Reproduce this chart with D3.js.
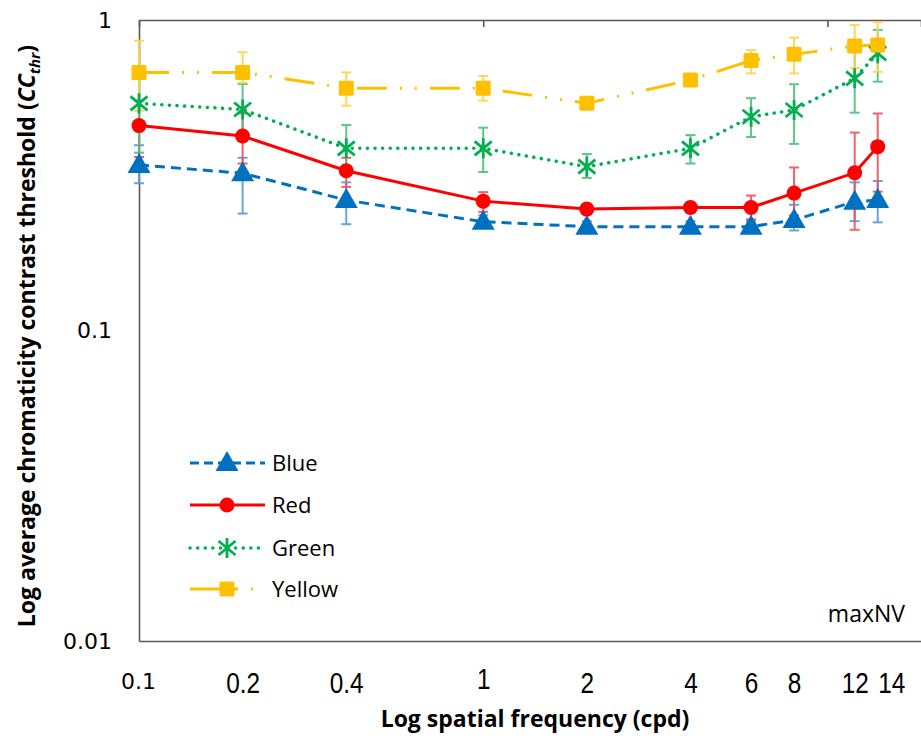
<!DOCTYPE html>
<html>
<head>
<meta charset="utf-8">
<script src="https://cdn.jsdelivr.net/npm/d3@7"></script>
<style>
  body { margin: 0; background: #fff; }
  svg { display: block; }
</style>
</head>
<body>
<svg id="chart" width="921" height="740"></svg>
<script>
// spatial frequencies (cpd)
const freqs = [0.1, 0.2, 0.4, 1, 2, 4, 6, 8, 12, 14]
const xTickLabels = ["0.1", "0.2", "0.4", "1", "2", "4", "6", "8", "12", "14"]
const yTickValues = [0.01, 0.1, 1]

const blue = [0.341, 0.321, 0.263, 0.224, 0.216, 0.216, 0.216, 0.227, 0.260, 0.263]
const blueHi = [0.395, 0.36, 0.30, 0.235, 0.225, 0.225, 0.225, 0.254, 0.30, 0.303]
const blueLo = [0.298, 0.238, 0.22, 0.214, 0.208, 0.208, 0.208, 0.21, 0.225, 0.223]

const red = [0.457, 0.423, 0.327, 0.261, 0.246, 0.249, 0.249, 0.277, 0.322, 0.391]
const redHi = [0.55, 0.5, 0.36, 0.279, 0.255, 0.258, 0.272, 0.335, 0.434, 0.50]
const redLo = [0.362, 0.345, 0.29, 0.241, 0.238, 0.24, 0.228, 0.235, 0.211, 0.28]

const green = [0.539, 0.515, 0.386, 0.386, 0.337, 0.386, 0.488, 0.513, 0.649, 0.781]
const greenHi = [0.65, 0.622, 0.459, 0.45, 0.37, 0.426, 0.56, 0.621, 0.82, 0.929]
const greenLo = [0.374, 0.43, 0.33, 0.324, 0.31, 0.345, 0.42, 0.399, 0.503, 0.633]

const yellow = [0.678, 0.678, 0.603, 0.603, 0.539, 0.641, 0.740, 0.775, 0.825, 0.831]
const yellowHi = [0.858, 0.787, 0.678, 0.66, 0.56, 0.66, 0.80, 0.877, 0.964, 0.983]
const yellowLo = [0.51, 0.628, 0.53, 0.55, 0.52, 0.62, 0.673, 0.673, 0.70, 0.681]

const series = [
  { name: "Blue", vals: blue, hi: blueHi, lo: blueLo, color: "#0070C0", err: "#5A9BD5", dash: "10 6", cap: "butt", marker: "triangle" },
  { name: "Red", vals: red, hi: redHi, lo: redLo, color: "#FF0000", err: "#F0505A", dash: null, cap: "butt", marker: "circle" },
  { name: "Green", vals: green, hi: greenHi, lo: greenLo, color: "#00B050", err: "#4CC27A", dash: "0.1 7.5", cap: "round", marker: "star" },
  { name: "Yellow", vals: yellow, hi: yellowHi, lo: yellowLo, color: "#FFC000", err: "#FFD24D", dash: "30 13 2 13 2 13", cap: "butt", marker: "square" }
]

const svg = d3.select("#chart")
const font = "'Open Sans', 'Noto Sans', sans-serif"

const x = d3.scaleLog().domain([0.1, 18.7]).range([139, 921])
const y = d3.scaleLog().domain([0.01, 1]).range([641, 20])

// axes
const bottomAxis = svg.append("g").attr("transform", "translate(0,641)")
  .call(d3.axisBottom(x).tickValues(freqs).tickSize(0)
    .tickFormat((d, i) => xTickLabels[i]))
bottomAxis.select(".domain").attr("stroke", "#595959").attr("stroke-width", 1.6)
bottomAxis.selectAll("text")
  .attr("font-family", "'Liberation Sans', sans-serif")
  .attr("font-size", 29).attr("fill", "#000")
  .attr("y", 52).attr("dy", 0)
  .attr("transform", "scale(0.84,1)")
  .attr("x", (d, i) => i === 9 ? 16 : 0)
bottomAxis.selectAll("text").filter((d, i) => i === 0 || i === 3)
  .attr("y", 48)
bottomAxis.selectAll("text").filter((d, i) => i === 0)
  .attr("font-family", "'DejaVu Sans', sans-serif").attr("font-size", 22)
  .attr("transform", null).attr("x", -1)

const topAxis = svg.append("g").attr("transform", "translate(0,20)")
  .call(d3.axisTop(x).tickValues([1, 10]).tickSize(-7).tickFormat(""))
topAxis.select(".domain").attr("stroke", "#595959").attr("stroke-width", 1.6)
topAxis.selectAll("line").attr("stroke", "#595959").attr("stroke-width", 1.6)

const leftAxis = svg.append("g").attr("transform", "translate(139,0)")
  .call(d3.axisLeft(y).tickValues(yTickValues).tickSize(0).tickPadding(27)
    .tickFormat(d3.format("~g")))
leftAxis.select(".domain").attr("stroke", "#595959").attr("stroke-width", 1.6)
leftAxis.selectAll("text")
  .attr("font-family", "'DejaVu Sans', sans-serif")
  .attr("font-size", 22).attr("fill", "#000")

// axis titles
svg.append("text")
  .attr("x", 535).attr("y", 727)
  .attr("text-anchor", "middle")
  .attr("font-family", font).attr("font-weight", "bold").attr("font-size", 23)
  .text("Log spatial frequency (cpd)")

const yt = svg.append("text")
  .attr("transform", "translate(35,336) rotate(-90)")
  .attr("text-anchor", "middle")
  .attr("font-family", font).attr("font-weight", "bold").attr("font-size", 23)
yt.append("tspan").text("Log average chromaticity contrast threshold (")
yt.append("tspan").attr("font-style", "italic").text("CC")
yt.append("tspan").attr("font-style", "italic").attr("font-size", 15).attr("dy", 5).text("thr")
yt.append("tspan").attr("dy", -5).text(")")

svg.append("text")
  .attr("x", 905).attr("y", 622)
  .attr("text-anchor", "end")
  .attr("font-family", font).attr("font-size", 23)
  .text("maxNV")

// error bars
series.forEach(s => {
  const g = svg.append("g").attr("stroke", s.err).attr("stroke-width", 2).attr("opacity", 0.9)
  freqs.forEach((f, i) => {
    const cx = x(f)
    g.append("line").attr("x1", cx).attr("x2", cx).attr("y1", y(s.hi[i])).attr("y2", y(s.lo[i]))
    g.append("line").attr("x1", cx - 5).attr("x2", cx + 5).attr("y1", y(s.hi[i])).attr("y2", y(s.hi[i]))
    g.append("line").attr("x1", cx - 5).attr("x2", cx + 5).attr("y1", y(s.lo[i])).attr("y2", y(s.lo[i]))
  })
})

function drawMarker(g, type, cx, cy, color) {
  if (type === "triangle") {
    g.append("path").attr("d", `M${cx},${cy - 12}L${cx + 11.5},${cy + 8}L${cx - 11.5},${cy + 8}Z`).attr("fill", color)
  } else if (type === "circle") {
    g.append("circle").attr("cx", cx).attr("cy", cy).attr("r", 7.5).attr("fill", color)
  } else if (type === "square") {
    g.append("rect").attr("x", cx - 7.5).attr("y", cy - 7.5).attr("width", 15).attr("height", 15).attr("rx", 1.5).attr("fill", color)
  } else {
    g.append("path")
      .attr("d", `M${cx},${cy - 10}L${cx},${cy + 10}M${cx - 8.5},${cy - 7}L${cx + 8.5},${cy + 7}M${cx - 8.5},${cy + 7}L${cx + 8.5},${cy - 7}`)
      .attr("stroke", color).attr("stroke-width", 2.8).attr("fill", "none")
  }
}

const line = d3.line().x((d, i) => x(freqs[i])).y(d => y(d))

series.forEach(s => {
  svg.append("path")
    .datum(s.vals)
    .attr("d", line)
    .attr("fill", "none")
    .attr("stroke", s.color)
    .attr("stroke-width", s.marker === "star" ? 3.5 : 3)
    .attr("stroke-dasharray", s.dash)
    .attr("stroke-linecap", s.cap)
})

series.forEach(s => {
  const g = svg.append("g")
  s.vals.forEach((v, i) => drawMarker(g, s.marker, x(freqs[i]), y(v), s.color))
})

// legend
const legendY = [463, 505, 548, 589]
series.forEach((s, i) => {
  const ly = legendY[i]
  const g = svg.append("g")
  g.append("line")
    .attr("x1", 190).attr("x2", 265).attr("y1", ly).attr("y2", ly)
    .attr("stroke", s.color)
    .attr("stroke-width", s.marker === "star" ? 3.5 : 3)
    .attr("stroke-dasharray", s.marker === "triangle" ? "9 5" : s.marker === "square" ? "48 13 2 30" : s.dash)
    .attr("stroke-linecap", s.cap)
  drawMarker(g, s.marker, 227, ly, s.color)
  g.append("text")
    .attr("x", 272).attr("y", ly + 8)
    .attr("font-family", font).attr("font-size", 22)
    .text(s.name)
})
</script>
</body>
</html>
